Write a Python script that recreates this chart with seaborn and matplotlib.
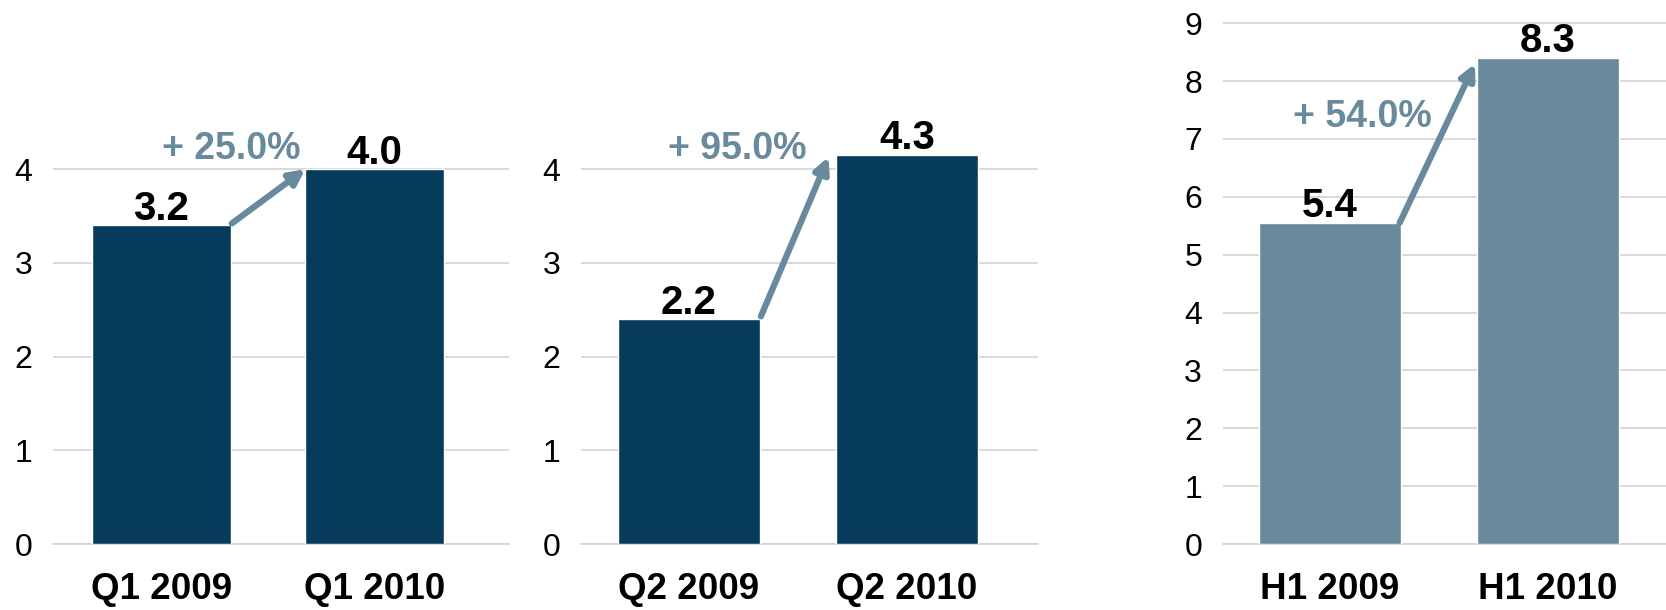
import numpy as np
import pandas as pd
import matplotlib.pyplot as plt
import seaborn as sns

sns.set_style("white")
plt.rcParams['font.family'] = ['Liberation Sans', 'DejaVu Sans']

DARK = "#073b5c"
LIGHT = "#688a9c"
GRID = "#d3d3d3"

# panel data: categories, drawn bar heights, printed labels, growth text
q1_cats = ["Q1 2009", "Q1 2010"]
q1_heights = [3.4, 4.0]
q1_labels = ["3.2", "4.0"]
q1_growth = "+ 25.0%"

q2_cats = ["Q2 2009", "Q2 2010"]
q2_heights = [2.4, 4.15]
q2_labels = ["2.2", "4.3"]
q2_growth = "+ 95.0%"

h1_cats = ["H1 2009", "H1 2010"]
h1_heights = [5.55, 8.4]
h1_labels = ["5.4", "8.3"]
h1_growth = "+ 54.0%"

fig = plt.figure(figsize=(16.66, 6.10), dpi=100)

panels = [
    # cats, heights, labels, growth, color, axes rect, xlim, ylim top, yticks, arrow, growth text pos
    (q1_cats, q1_heights, q1_labels, q1_growth, DARK,
     [0.0318, 0.108, 0.274, 0.707], (-0.508, 1.632), 4.6, range(0, 5),
     ((0.33, 3.42), (0.675, 4.0)), (0.33, 4.21)),
    (q2_cats, q2_heights, q2_labels, q2_growth, DARK,
     [0.349, 0.108, 0.274, 0.707], (-0.493, 1.6), 4.6, range(0, 5),
     ((0.33, 2.43), (0.64, 4.13)), (0.22, 4.21)),
    (h1_cats, h1_heights, h1_labels, h1_growth, LIGHT,
     [0.734, 0.108, 0.266, 0.873], (-0.49, 1.54), 9.2, range(0, 10),
     ((0.32, 5.55), (0.665, 8.3)), (0.15, 7.38)),
]

for cats, heights, labels, growth, color, rect, xlim, ytop, yticks, arrow, gpos in panels:
    ax = fig.add_axes(rect)
    df = pd.DataFrame({"period": cats, "value": heights})
    sns.barplot(data=df, x="period", y="value", color=color, width=0.65,
                saturation=1, ax=ax, zorder=3)
    ax.set_xlim(*xlim)
    ax.set_ylim(0, ytop)
    ax.set_yticks(list(yticks))
    ax.set_xlabel("")
    ax.set_ylabel("")
    ax.grid(axis="y", color=GRID, linewidth=1.2, zorder=0)
    for s in ["left", "top", "right"]:
        ax.spines[s].set_visible(False)
    ax.spines["bottom"].set_color(GRID)
    ax.spines["bottom"].set_linewidth(1.2)
    ax.tick_params(axis="y", length=0, pad=15, labelsize=23, labelcolor="black")
    ax.tick_params(axis="x", which="major", length=0, pad=20, labelsize=26.5,
                   labelcolor="black")
    for t in ax.get_xticklabels():
        t.set_fontweight("bold")
    ax.set_xticks(list(xlim), minor=True)
    ax.tick_params(axis="x", which="minor", length=13, width=1.2, color=GRID,
                   direction="out")

    for i, (h, lab) in enumerate(zip(heights, labels)):
        ax.annotate(lab, (i, h), xytext=(0, 4), textcoords="offset points",
                    ha="center", va="baseline", fontsize=29, fontweight="bold",
                    color="black", annotation_clip=False, zorder=5)

    (x0, y0), (x1, y1) = arrow
    ax.annotate("", xy=(x1, y1), xytext=(x0, y0),
                arrowprops=dict(arrowstyle="-|>,head_length=0.9,head_width=0.45",
                                color=LIGHT, lw=4.5, shrinkA=0, shrinkB=0),
                annotation_clip=False, zorder=6)
    ax.text(gpos[0], gpos[1], growth, ha="center", va="center", fontsize=27,
            fontweight="bold", color=LIGHT, zorder=6)

fig.savefig("out.png", dpi=100)
